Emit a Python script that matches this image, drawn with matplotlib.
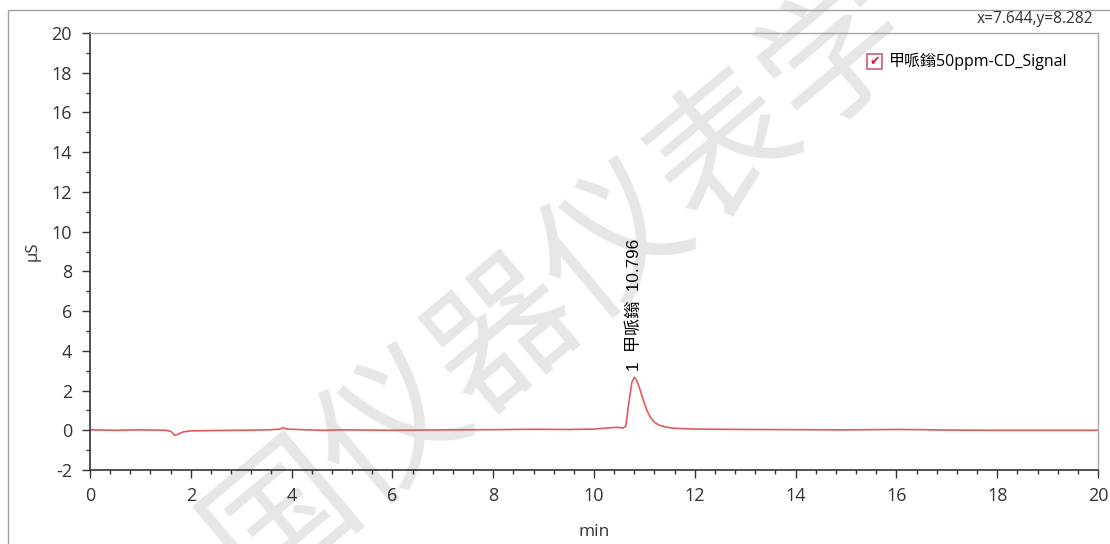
import numpy as np
import matplotlib
matplotlib.use('Agg')
import matplotlib.pyplot as plt
from matplotlib.ticker import MultipleLocator
from matplotlib.patches import Rectangle

plt.rcParams['font.family'] = ['Open Sans', 'Noto Sans CJK SC', 'DejaVu Sans']
plt.rcParams['axes.unicode_minus'] = False

# ── data ──
time_min = [0.0, 0.5, 1.0, 1.5, 1.6, 1.68, 1.75, 1.85, 2.0, 2.5, 3.0, 3.5, 3.75,
            3.83, 3.92, 4.2, 4.6, 5.0, 6.0, 7.0, 8.0, 8.8, 9.5, 10.0, 10.3,
            10.45, 10.58, 10.63, 10.69, 10.75, 10.8, 10.85, 10.92, 10.98,
            11.05, 11.12, 11.2, 11.3, 11.45, 11.6, 12.0, 13.0, 14.0, 15.0,
            16.0, 16.5, 17.0, 18.0, 19.0, 20.0]
signal_us = [0.02, 0.0, 0.02, 0.0, -0.05, -0.25, -0.2, -0.08, -0.03, -0.01, 0.0,
             0.02, 0.05, 0.12, 0.06, 0.03, 0.0, 0.02, 0.0, 0.02, 0.03, 0.05,
             0.04, 0.06, 0.12, 0.15, 0.12, 0.2, 1.35, 2.4, 2.67, 2.5, 2.0, 1.5,
             1.0, 0.65, 0.4, 0.25, 0.15, 0.1, 0.06, 0.04, 0.03, 0.02, 0.04,
             0.03, 0.01, 0.0, 0.0, 0.0]

peak_rt = 10.796
peak_label = '1  甲哌鎓  10.796'
series_name = '甲哌鎓50ppm-CD_Signal'
cursor_text = 'x=7.644,y=8.282'
watermark = '国仪器仪表学'

DARK = '#333333'
LIGHT = '#a8a8a8'
LINE_C = '#e05a5e'

fig = plt.figure(figsize=(11.1, 5.44), dpi=100)
ax = fig.add_axes([90/1110, 1 - 470/544, (1098-90)/1110, (470-33)/544])
ax.set_zorder(1)
ax.patch.set_alpha(0)

# outer frame
fig.add_artist(Rectangle((8/1110, -0.01), 1.1, 1 - 10/544 + 0.01, transform=fig.transFigure,
                         fill=False, edgecolor='#a0a0a0', linewidth=1.0))

# watermark
fig.text(560/1110, 1 - 285/544, watermark, fontsize=104, color='#e0e0e0', alpha=0.8,
         rotation=40, ha='center', va='center', zorder=0.5,
         family=['Noto Sans CJK SC'])

ax.plot(time_min, signal_us, color=LINE_C, linewidth=1.2)

ax.text(peak_rt, 3.0, peak_label, rotation=90, ha='center', va='bottom',
        fontsize=12.3, color='black', family=['Liberation Sans', 'Noto Sans CJK SC'])

ax.set_xlim(0, 20)
ax.set_ylim(-2, 20)
ax.xaxis.set_major_locator(MultipleLocator(2))
ax.xaxis.set_minor_locator(MultipleLocator(0.4))
ax.yaxis.set_major_locator(MultipleLocator(2))
ax.yaxis.set_minor_locator(MultipleLocator(1))
ax.tick_params(which='major', length=6, width=1, color=DARK, labelcolor=DARK,
               labelsize=13, direction='out')
ax.tick_params(which='minor', length=3, width=1, color=DARK, direction='out')
ax.tick_params(axis='x', pad=6)
ax.tick_params(axis='y', pad=7)

for s in ['left', 'bottom']:
    ax.spines[s].set_color(DARK)
    ax.spines[s].set_linewidth(1.2)
for s in ['top', 'right']:
    ax.spines[s].set_color(LIGHT)
    ax.spines[s].set_linewidth(1.0)

ax.set_xlabel('min', fontsize=12.5, color=DARK, labelpad=14)
ax.set_ylabel('µS', fontsize=12, color=DARK, labelpad=8)

# legend with checkbox
bx, by = 867/1110, 1 - 69/544
fig.add_artist(Rectangle((bx, by), 15/1110, 15/544, transform=fig.transFigure,
                         fill=False, edgecolor='#d06070', linewidth=1.2, zorder=5))
fig.text(bx + 7.5/1110, by + 7.5/544, '✔', fontsize=9, color='#d0203a',
         family=['DejaVu Sans'], ha='center', va='center', zorder=6)
fig.text(889/1110, by + 8/544, series_name, fontsize=11.5, color='black',
         ha='left', va='center', zorder=6)

fig.text(1093/1110, 1 - 19/544, cursor_text, fontsize=11.2, color=DARK,
         ha='right', va='center')

fig.savefig('out.png', dpi=100)
